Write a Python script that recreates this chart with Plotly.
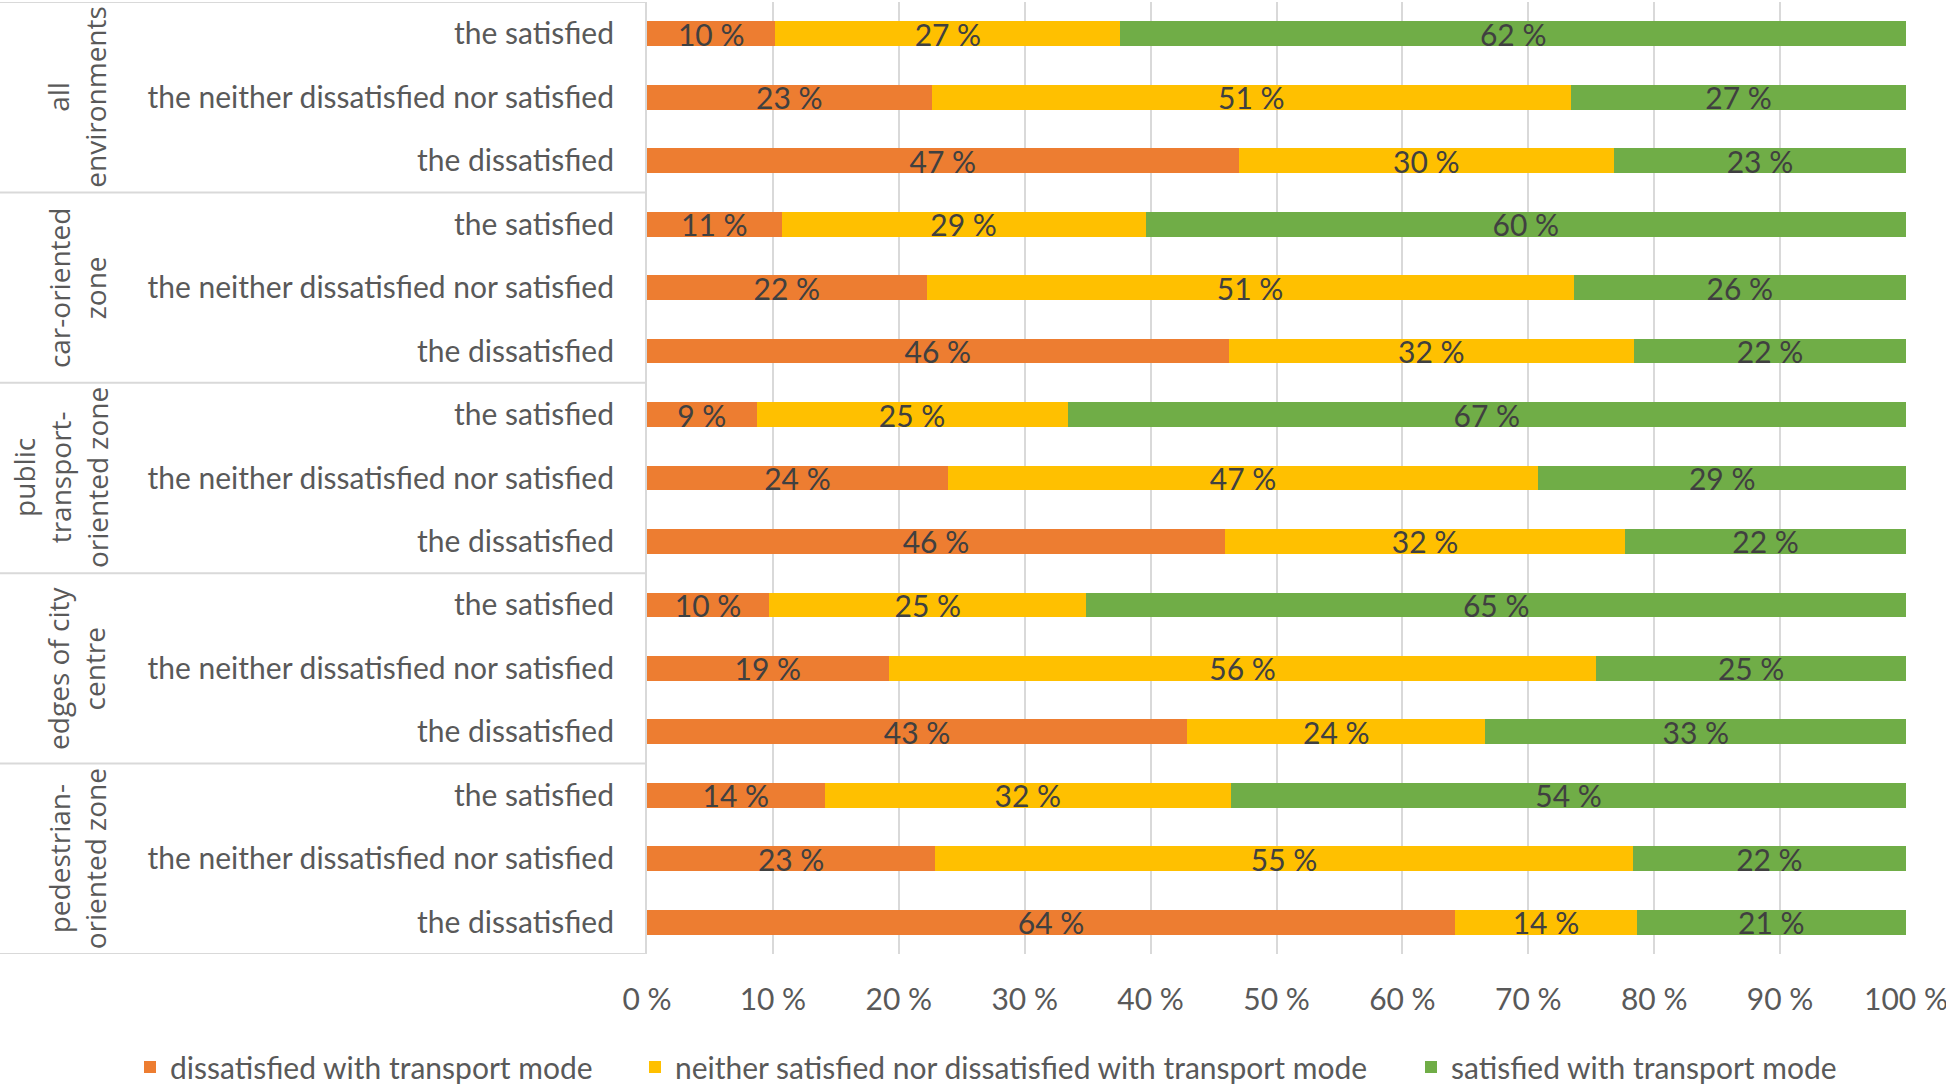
import plotly.graph_objects as go

# ---------------- data ----------------
groups = ["all<br>environments", "car-oriented<br>zone", "public<br>transport-<br>oriented zone",
          "edges of city<br>centre", "pedestrian-<br>oriented zone"]
subgroups = ["the satisfied", "the neither dissatisfied nor satisfied", "the dissatisfied"]

dissatisfied = [10.2, 22.6, 47.0,
                10.7, 22.2, 46.2,
                8.7, 23.9, 45.9,
                9.7, 19.2, 42.9,
                14.1, 22.9, 64.2]
neither = [27.4, 50.8, 29.8,
           28.9, 51.4, 32.2,
           24.7, 46.9, 31.8,
           25.2, 56.2, 23.7,
           32.3, 55.4, 14.4]
satisfied = [62.4, 26.6, 23.2,
             60.4, 26.4, 21.6,
             66.6, 29.2, 22.3,
             65.1, 24.6, 33.4,
             53.6, 21.7, 21.4]

series_names = ["dissatisfied with transport mode",
                "neither satisfied nor dissatisfied with transport mode",
                "satisfied with transport mode"]
series_colors = ["#ED7D31", "#FFC000", "#70AD47"]
x_ticks = [0, 10, 20, 30, 40, 50, 60, 70, 80, 90, 100]
x_ticktext = [f"{v} %" for v in x_ticks]

# ---------------- layout geometry ----------------
W, H = 1946, 1084
L, R, T, B = 647, 40, 2, 130
PW = W - L - R
PH = H - T - B

def px2paper(px):
    return (px - L) / PW

row_labels = [s for _ in groups for s in subgroups]
rows = list(range(len(row_labels)))

TXT = "#404040"
AX = "#595959"
GRID = "#D9D9D9"
FONT = "Lato, 'Noto Sans', sans-serif"
FS = 30

legend_ids = ["legend", "legend2", "legend3"]
legend_square_left = [144, 649, 1425]

fig = go.Figure()
for name, vals, col, lid in zip(series_names, [dissatisfied, neither, satisfied], series_colors, legend_ids):
    fig.add_trace(go.Bar(
        y=rows, x=vals, orientation="h", name=name, legend=lid,
        marker=dict(color=col, line=dict(width=0)),
        text=vals, texttemplate="%{x:.0f} %", textposition="inside",
        insidetextanchor="middle",
        textfont=dict(family=FONT, size=FS, color=TXT),
        hoverinfo="skip",
    ))

shapes = []
n_per = len(subgroups)
for gi in range(len(groups) + 1):
    yv = gi * n_per - 0.5
    shapes.append(dict(type="line", xref="paper", yref="y",
                       x0=px2paper(0), x1=0, y0=yv, y1=yv,
                       line=dict(color=GRID, width=2)))

annotations = []
for gi, g in enumerate(groups):
    nl = g.count("<br>") + 1
    cx = 93 - (nl - 1) * 33 / 2
    annotations.append(dict(
        text=g, xref="paper", yref="y", x=px2paper(cx), y=gi * n_per + (n_per - 1) / 2,
        xanchor="center", yanchor="middle", textangle=-90, showarrow=False,
        font=dict(family="'Open Sans', sans-serif", size=28, color=AX),
    ))

legend_common = dict(orientation="h", xref="paper", yref="paper", xanchor="left",
                     y=-(1067 - (H - B)) / PH, yanchor="middle",
                     font=dict(family=FONT, size=FS, color=AX), bgcolor="rgba(0,0,0,0)",
                     itemclick=False, itemdoubleclick=False)
legends = {lid: dict(legend_common, x=px2paper(sq - 14)) for lid, sq in zip(legend_ids, legend_square_left)}

fig.update_layout(
    width=W, height=H,
    margin=dict(l=L, r=R, t=T, b=B, autoexpand=False),
    paper_bgcolor="white", plot_bgcolor="white",
    barmode="stack", bargap=0.61,
    uniformtext=dict(mode="show", minsize=FS),
    showlegend=True,
    xaxis=dict(range=[0, 100], tickvals=x_ticks, ticktext=x_ticktext,
               showgrid=True, gridcolor=GRID, gridwidth=2, zeroline=False,
               showline=False, ticks="", ticklabelstandoff=25, ticklabeloverflow="allow",
               tickfont=dict(family=FONT, size=FS, color=AX), fixedrange=True),
    yaxis=dict(range=[len(rows) - 0.5, -0.5], tickvals=rows, ticktext=row_labels,
               showgrid=False, zeroline=False, showline=True, linecolor=GRID, linewidth=2,
               ticks="", ticklabelstandoff=25,
               tickfont=dict(family=FONT, size=FS, color=AX), fixedrange=True),
    shapes=shapes, annotations=annotations,
    **legends,
)

fig.write_html("out.html", config={"displayModeBar": False},
               post_script="document.body.style.margin='0';document.body.style.overflow='hidden';")
